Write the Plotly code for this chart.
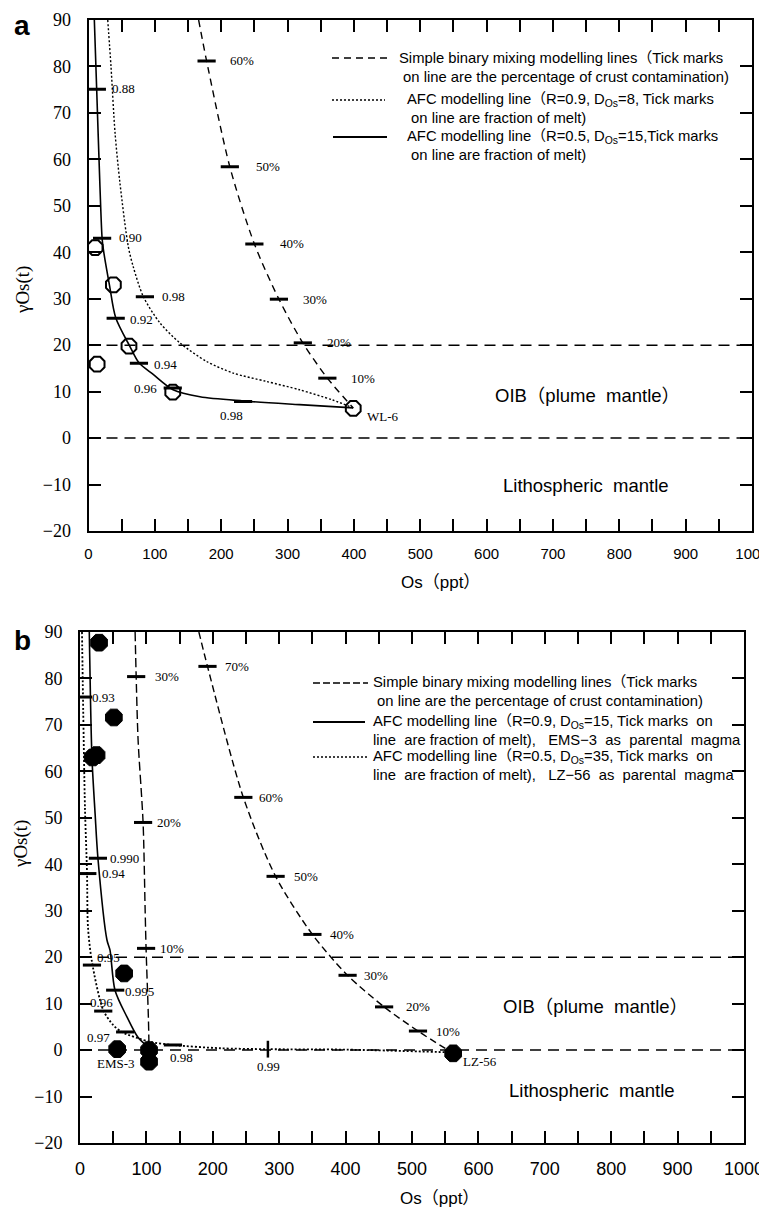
import plotly.graph_objects as go

W, H = 767, 1209
OFF = 8  # page body margin compensation (px)

# ---------------- Panel a data ----------------
a_mix_x = [166, 178, 213, 250, 287, 323, 360, 399]
a_mix_y = [90, 81.2, 58.4, 41.8, 29.9, 20.5, 12.9, 6.5]
a_mix_tick_x = [178, 213, 250, 287, 323, 360]
a_mix_tick_y = [81.2, 58.4, 41.8, 29.9, 20.5, 12.9]
a_mix_tick_lab = ["60%", "50%", "40%", "30%", "20%", "10%"]
a_mix_lab_x = [210, 250, 285, 321, 356, 392]

a_dot_x = [29, 33.9, 40, 47.4, 60, 67.4, 82.5, 107.6, 137.7, 178, 218, 268, 318, 368, 399]
a_dot_y = [90, 80, 65.7, 54.9, 41.2, 36.9, 30.5, 24.8, 20.5, 16.5, 14, 12.2, 10.4, 8.2, 6.5]
a_dot_tick_x = [85]
a_dot_tick_y = [30.4]
a_dot_tick_lab = ["0.98"]
a_dot_lab_x = [108]
a_dot_lab_y = [30.4]

a_sol_x = [8.8, 12.3, 17.3, 20.5, 22.5, 32, 41, 62.5, 76, 97.5, 127.5, 168, 233, 318, 399]
a_sol_y = [90, 75.2, 54, 43, 40.5, 32.6, 25.9, 19.7, 16.2, 13.7, 10.4, 8.9, 8, 7.2, 6.5]
a_sol_tick_x = [12.6, 20.5, 41, 76, 127, 233]
a_sol_tick_y = [75.1, 43, 25.8, 16.1, 10.8, 7.9]
a_sol_tick_lab = ["0.88", "0.90", "0.92", "0.94", "0.96", "0.98"]
a_sol_lab_x = [32.5, 43, 59.5, 95.5, 65.5, 195]
a_sol_lab_y = [75.2, 43.1, 25.5, 15.8, 10.6, 4.8]

a_samp_x = [10, 37.5, 61, 13, 127, 399]
a_samp_y = [41, 33, 19.8, 15.9, 9.9, 6.4]

# ---------------- Panel b data ----------------
b_mixR_x = [179, 192, 246, 294.6, 350, 403, 458, 509, 562]
b_mixR_y = [90, 82.6, 54.4, 37.4, 24.9, 16.1, 9.3, 4.1, -0.7]
b_mixR_tick_x = [192, 246, 294.6, 350, 403, 458, 509]
b_mixR_tick_y = [82.6, 54.4, 37.4, 24.9, 16.1, 9.3, 4.1]
b_mixR_tick_lab = ["70%", "60%", "50%", "40%", "30%", "20%", "10%"]
b_mixR_lab_x = [215, 266.5, 319, 373.5, 425, 488, 533]

b_mixL_x = [83, 84.6, 87.5, 95, 98, 99.5, 103, 104]
b_mixL_y = [90, 80.4, 66.7, 49, 30.8, 21.9, 7, 0]
b_mixL_tick_x = [84.6, 95, 99.5]
b_mixL_tick_y = [80.4, 49, 21.9]
b_mixL_tick_lab = ["30%", "20%", "10%"]
b_mixL_lab_x = [110, 113, 117.5]

b_sol_x = [14, 18, 22.7, 27, 40.6, 45.2, 52.7, 70.5, 87, 102]
b_sol_y = [90, 63, 51, 41.3, 23.7, 21.5, 12.9, 7.2, 2.8, 0.7]
b_sol_tick_x = [27, 53]
b_sol_tick_y = [41.3, 12.9]
b_sol_tick_lab = ["0.990", "0.995"]
b_sol_lab_x = [42.5, 65]
b_sol_lab_y = [41.3, 12.7]

b_dot_x = [3, 4.5, 7.5, 10.6, 12, 18, 35, 50, 63, 105, 140, 211, 283, 400, 562]
b_dot_y = [90, 76, 52, 38, 26.5, 19, 8.6, 5.4, 3.9, 1.8, 1.1, 0.4, 0.2, 0.1, -0.5]
b_dot_tick_x = [4.5, 11, 18, 35, 68, 140]
b_dot_tick_y = [76, 38, 18.3, 8.4, 3.9, 1.1]
b_dot_tick_lab = ["0.93", "0.94", "0.95", "0.96", "0.97", "0.98"]
b_dot_lab_x = [15, 30, 22.6, 12, 7.5, 132.5]
b_dot_lab_y = [76, 38, 20, 10.3, 2.8, -1.5]
b_dot_vtick_x = [283]
b_dot_vtick_y = [0.2]
b_dot_vtick_lab = ["0.99"]
b_dot_vlab_x = [263.5]
b_dot_vlab_y = [-3.6]

b_samp_x = [28.7, 51, 19, 25, 66.5, 56, 104, 104, 562]
b_samp_y = [87.7, 71.6, 63, 63.5, 16.5, 0.2, 0, -2.5, -0.7]

# Sample names
a_names = ["WL-6"]
a_name_x = [416]
a_name_y = [4.6]
b_names = ["EMS-3", "LZ-56"]
b_name_x = [22.6, 574]
b_name_y = [-2.8, -2.4]

# Field boundaries
boundaries = [20, 0]

SERIF = "Liberation Serif, Times New Roman, serif"
SANS = "Liberation Sans, Arial, Noto Sans CJK SC, sans-serif"
NARROW = "Liberation Sans Narrow, Liberation Sans, Arial, sans-serif"

fig = go.Figure()


def line(xs, ys, dash, xa, ya, width=1.4):
    fig.add_trace(go.Scatter(x=xs, y=ys, mode="lines", xaxis=xa, yaxis=ya,
                             line=dict(color="black", width=width, dash=dash,
                                       shape="spline", smoothing=0.8),
                             showlegend=False, hoverinfo="skip"))


def ticks(xs, ys, xa, ya, symbol="line-ew", size=13, w=3):
    fig.add_trace(go.Scatter(x=xs, y=ys, mode="markers", xaxis=xa, yaxis=ya,
                             marker=dict(symbol=symbol, size=size, color="black",
                                         line=dict(color="black", width=w)),
                             showlegend=False, hoverinfo="skip"))


def labels(xs, ys, texts, xa, ya, size=13):
    for x, y, t in zip(xs, ys, texts):
        fig.add_annotation(x=x, y=y, xref=xa, yref=ya, text=t, showarrow=False,
                           xanchor="left", yanchor="middle",
                           font=dict(family=SERIF, size=size, color="black"))


# Panel a
line(a_mix_x, a_mix_y, "7px,5px", "x", "y")
line(a_dot_x, a_dot_y, "2px,2px", "x", "y")
line(a_sol_x, a_sol_y, "solid", "x", "y", 1.6)
ticks(a_mix_tick_x, a_mix_tick_y, "x", "y")
ticks(a_dot_tick_x, a_dot_tick_y, "x", "y")
ticks(a_sol_tick_x, a_sol_tick_y, "x", "y")
fig.add_trace(go.Scatter(x=a_samp_x, y=a_samp_y, mode="markers", xaxis="x", yaxis="y",
                         marker=dict(symbol="octagon", size=16, color="rgba(255,255,255,0)",
                                     line=dict(color="black", width=2)),
                         showlegend=False, hoverinfo="skip"))
labels(a_mix_lab_x, a_mix_tick_y, a_mix_tick_lab, "x", "y")
labels(a_dot_lab_x, a_dot_lab_y, a_dot_tick_lab, "x", "y")
labels(a_sol_lab_x, a_sol_lab_y, a_sol_tick_lab, "x", "y")
labels(a_name_x, a_name_y, a_names, "x", "y")

# Panel b
line(b_mixR_x, b_mixR_y, "7px,4px", "x2", "y2")
line(b_mixL_x, b_mixL_y, "9px,4px", "x2", "y2")
line(b_sol_x, b_sol_y, "solid", "x2", "y2", 1.6)
line(b_dot_x, b_dot_y, "2px,2px", "x2", "y2", 1.8)
ticks(b_mixR_tick_x, b_mixR_tick_y, "x2", "y2")
ticks(b_mixL_tick_x, b_mixL_tick_y, "x2", "y2")
ticks(b_sol_tick_x, b_sol_tick_y, "x2", "y2")
ticks(b_dot_tick_x, b_dot_tick_y, "x2", "y2")
ticks(b_dot_vtick_x, b_dot_vtick_y, "x2", "y2", symbol="line-ns", size=12, w=2.5)
fig.add_trace(go.Scatter(x=b_samp_x, y=b_samp_y, mode="markers", xaxis="x2", yaxis="y2",
                         marker=dict(symbol="octagon", size=18, color="black",
                                     line=dict(color="black", width=1)),
                         showlegend=False, hoverinfo="skip"))
labels(b_mixR_lab_x, b_mixR_tick_y, b_mixR_tick_lab, "x2", "y2")
labels(b_mixL_lab_x, b_mixL_tick_y, b_mixL_tick_lab, "x2", "y2")
labels(b_sol_lab_x, b_sol_lab_y, b_sol_tick_lab, "x2", "y2")
labels(b_dot_lab_x, b_dot_lab_y, b_dot_tick_lab, "x2", "y2")
labels(b_dot_vlab_x, b_dot_vlab_y, b_dot_vtick_lab, "x2", "y2")
labels(b_name_x, b_name_y, b_names, "x2", "y2")

# boundaries
for xa, ya in (("x", "y"), ("x2", "y2")):
    for b in boundaries:
        fig.add_shape(type="line", xref=f"{xa} domain", yref=ya, x0=0, x1=1, y0=b, y1=b,
                      line=dict(color="black", width=1.5, dash="11px,7px"))


def PX(px):
    return (px - OFF) / W


def PY(py):
    return 1 - (py - OFF) / H


def ann_px(px, py, text, size, family=SANS, xanchor="left", bold=False, angle=0, color="black"):
    fig.add_annotation(x=PX(px), y=PY(py), xref="paper", yref="paper", text=text, showarrow=False,
                       xanchor=xanchor, yanchor="middle", textangle=angle, align="left",
                       font=dict(family=family, size=size, color=color,
                                 weight="bold" if bold else "normal"))


def seg_px(x0, x1, py, dash, width=1.5):
    fig.add_shape(type="line", xref="paper", yref="paper", x0=PX(x0), x1=PX(x1),
                  y0=PY(py), y1=PY(py), line=dict(color="black", width=width, dash=dash))


# Legend panel a
LEG = 14.8
seg_px(332, 388, 58, "7px,5px")
seg_px(332, 385, 100, "2px,2px")
seg_px(333, 387, 137, "solid", 1.8)
ann_px(397, 67, "Simple binary mixing modelling lines（Tick marks<br> on line are the percentage of crust contamination)", LEG)
ann_px(405, 108.5, "AFC modelling line（R=0.9, D<sub>Os</sub>=8, Tick marks<br> on line are fraction of melt)", LEG)
ann_px(405, 146, "AFC modelling line（R=0.5, D<sub>Os</sub>=15,Tick marks<br> on line are fraction of melt)", LEG)

# Legend panel b
seg_px(313, 368, 683, "7px,3px")
seg_px(313, 365, 722, "solid", 1.8)
seg_px(313, 367, 757, "2px,2px")
ann_px(371, 691, "Simple binary mixing modelling lines（Tick marks<br> on line are the percentage of crust contamination)", LEG)
ann_px(371, 730, "AFC modelling line（R=0.9, D<sub>Os</sub>=15, Tick marks  on<br>line  are fraction of melt),   EMS−3  as  parental  magma", LEG)
ann_px(371, 765, "AFC modelling line（R=0.5, D<sub>Os</sub>=35, Tick marks  on<br>line  are fraction of melt),   LZ−56  as  parental  magma", LEG)

# Field names
ann_px(587, 395, "OIB（plume  mantle）", 18.5, xanchor="center")
ann_px(586, 485, "Lithospheric  mantle", 18.5, xanchor="center")
ann_px(595, 1006, "OIB（plume  mantle）", 18.5, xanchor="center")
ann_px(592, 1090, "Lithospheric  mantle", 18.5, xanchor="center")

# Panel letters
ann_px(12, 25, "a", 28, bold=True)
ann_px(12, 640, "b", 28, bold=True)

# Axis titles
ann_px(441, 582, "Os（ppt）", 17, xanchor="center")
ann_px(439, 1198, "Os（ppt）", 17, family=NARROW + ", Noto Sans CJK SC", xanchor="center")
ann_px(23, 290, "γOs(t)", 19, family=SERIF, xanchor="center", angle=-90)
ann_px(21, 844, "γOs(t)", 19, family=SERIF, xanchor="center", angle=-90)


def xaxis(domain, anchor, font):
    return dict(domain=domain, anchor=anchor, range=[0, 1000], tick0=0, dtick=100,
                ticks="inside", ticklen=12, tickwidth=1.5, tickcolor="black",
                showline=True, linewidth=2, linecolor="black", mirror="ticks",
                showgrid=False, zeroline=False, tickfont=font, ticklabelstandoff=8,
                ticklabeloverflow="allow",
                minor=dict(dtick=50, tick0=0, ticks="inside", ticklen=12, tickwidth=1.5,
                           tickcolor="black", showgrid=False))


def yaxis(domain, anchor):
    return dict(domain=domain, anchor=anchor, range=[-20, 90], tick0=0, dtick=10,
                ticks="inside", ticklen=12, tickwidth=1.5, tickcolor="black",
                showline=True, linewidth=2, linecolor="black", mirror="ticks",
                showgrid=False, zeroline=False, ticklabelstandoff=12,
                ticklabeloverflow="allow",
                tickfont=dict(family=SERIF, size=18, color="black"))


fig.update_layout(
    width=W, height=H, margin=dict(l=0, r=0, t=0, b=0, autoexpand=False),
    paper_bgcolor="white", plot_bgcolor="white", showlegend=False,
    xaxis=xaxis([PX(88.5), PX(752)], "y", dict(family=SANS, size=15, color="black")),
    yaxis=yaxis([PY(531), PY(20)], "x"),
    xaxis2=xaxis([PX(80), PX(744)], "y2", dict(family=NARROW, size=18, color="black")),
    yaxis2=yaxis([PY(1143), PY(632)], "x2"),
)

fig.write_html("out.html")
